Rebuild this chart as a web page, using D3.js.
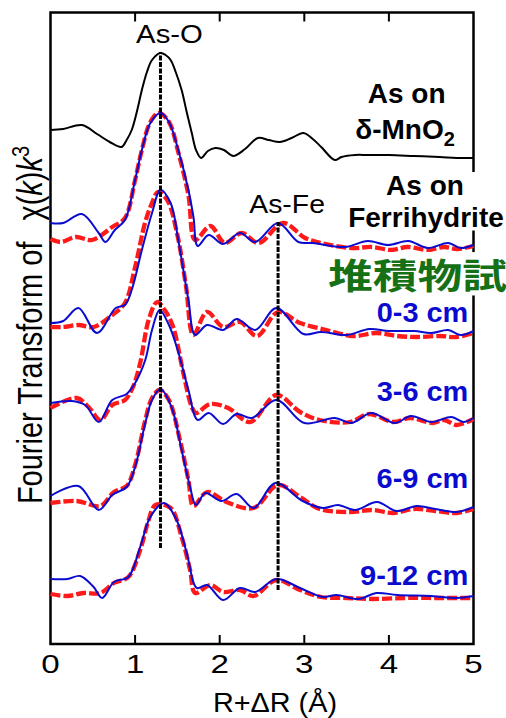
<!DOCTYPE html>
<html>
<head>
<meta charset="utf-8">
<script src="https://cdn.jsdelivr.net/npm/d3@7"></script>
<style>
  html, body { margin: 0; padding: 0; background: #fff; }
  svg { display: block; }
</style>
</head>
<body>
<div id="chart"></div>
<script>
// FT magnitude vs R+dR (A), stacked (offsets already included), arb. units
const mno2Ref = [[0,51.4],[0.15,51.5],[0.37,51.9],[0.55,51.0],[0.7,50.2],[0.84,49.7],[0.9,50.4],[0.96,51.4],
  [1.02,53.2],[1.08,55.4],[1.14,57.2],[1.2,58.4],[1.3,59.1],[1.36,58.9],[1.42,58.4],[1.48,57.2],[1.55,55.4],
  [1.61,53.2],[1.67,51.1],[1.72,49.4],[1.78,48.6],[1.86,49.3],[1.95,49.6],[2.05,49.4],[2.16,48.8],[2.3,49.5],
  [2.45,50.6],[2.58,50.4],[2.71,50.2],[2.85,50.6],[2.99,51.1],[3.1,50.5],[3.2,49.7],[3.36,48.4],[3.44,48.7],
  [3.6,48.9],[3.75,48.9],[4.0,48.9],[4.3,48.8],[4.6,48.7],[4.8,48.6],[5.0,48.6]];

const ferriExp = [[0,42.1],[0.15,42.1],[0.37,43.0],[0.57,41.1],[0.65,40.2],[0.76,41.4],[0.88,42.4],[1.0,46.4],
  [1.08,49.4],[1.18,52.1],[1.3,53.1],[1.4,52.2],[1.51,49.4],[1.63,45.4],[1.69,42.7],[1.74,39.8],[1.87,40.9],
  [2.04,40.0],[2.24,41.1],[2.42,40.2],[2.69,42.1],[2.93,40.2],[3.1,40.1],[3.48,39.7],[3.75,40.3],[3.99,39.9],
  [4.23,40.3],[4.46,39.6],[4.7,40.1],[4.85,39.6],[5.0,39.9]];
const ferriFit = [[0,40.5],[0.12,40.2],[0.3,40.7],[0.49,40.4],[0.73,41.7],[0.88,42.6],[1.0,46.4],[1.08,49.4],
  [1.18,52.2],[1.28,53.1],[1.4,52.2],[1.51,49.2],[1.63,44.9],[1.71,40.4],[1.89,41.8],[2.06,40.1],[2.26,41.1],
  [2.46,40.1],[2.75,42.1],[3.01,40.6],[3.2,40.1],[3.56,39.6],[3.8,39.7],[4.03,39.4],[4.22,39.7],[4.46,39.4],
  [4.65,39.7],[4.81,39.5],[5.0,39.8]];

const cm0to3Exp = [[0,32.1],[0.15,32.3],[0.33,33.6],[0.55,31.1],[0.77,33.6],[0.88,33.9],[0.96,35.4],[1.08,39.4],
  [1.2,43.1],[1.3,45.4],[1.42,44.1],[1.51,40.4],[1.63,34.4],[1.71,30.9],[1.85,31.9],[2.04,31.4],[2.2,32.5],
  [2.42,31.4],[2.67,33.6],[2.99,31.0],[3.2,31.2],[3.5,30.9],[3.77,31.5],[4.0,31.3],[4.3,31.3],[4.5,31.1],
  [4.7,31.4],[4.85,30.9],[5.0,31.3]];
const cm0to3Fit = [[0,31.7],[0.15,31.7],[0.33,31.9],[0.51,31.7],[0.73,32.9],[0.88,34.1],[1.0,37.7],[1.12,42.2],
  [1.2,44.1],[1.27,45.2],[1.38,44.4],[1.5,40.9],[1.6,35.9],[1.69,30.9],[1.85,33.2],[2.04,31.7],[2.24,32.2],
  [2.44,30.8],[2.69,33.2],[2.95,32.1],[3.26,31.4],[3.58,30.8],[3.85,31.1],[4.1,30.8],[4.33,30.7],[4.6,30.8],
  [4.8,30.7],[5.0,31.1]];

const cm3to6Exp = [[0,24.1],[0.25,24.3],[0.41,23.9],[0.57,22.2],[0.73,24.4],[0.9,25.0],[1.0,26.1],[1.12,28.4],
  [1.2,31.4],[1.29,33.4],[1.4,31.9],[1.51,29.2],[1.63,25.4],[1.74,22.4],[1.87,23.1],[2.04,22.0],[2.2,23.0],
  [2.38,22.6],[2.67,24.4],[3.0,22.1],[3.36,22.6],[3.56,22.1],[3.79,23.1],[4.07,22.1],[4.26,22.8],[4.5,22.2],
  [4.74,22.7],[4.88,22.2],[5.0,22.6]];
const cm3to6Fit = [[0,23.6],[0.31,24.6],[0.45,23.7],[0.59,22.4],[0.73,23.9],[0.88,24.4],[0.97,25.6],[1.06,28.1],
  [1.16,32.4],[1.26,34.2],[1.35,33.4],[1.45,31.7],[1.57,27.1],[1.67,23.7],[1.72,23.1],[1.89,24.0],[2.1,23.6],
  [2.36,22.2],[2.67,24.9],[2.95,23.2],[3.18,22.4],[3.54,22.2],[3.77,23.0],[4.05,22.2],[4.25,22.6],[4.52,22.1],
  [4.65,22.4],[4.8,21.9],[5.0,22.5]];

const cm6to9Exp = [[0,14.8],[0.33,15.8],[0.57,13.4],[0.73,14.9],[0.9,15.7],[1.0,17.7],[1.12,22.1],[1.2,24.4],
  [1.3,25.5],[1.43,23.7],[1.55,19.4],[1.65,15.7],[1.72,13.9],[1.83,15.1],[2.02,14.3],[2.2,15.0],[2.4,13.6],
  [2.66,16.1],[2.98,14.3],[3.22,13.6],[3.4,13.9],[3.6,13.4],[3.86,14.2],[4.09,13.3],[4.33,13.8],[4.55,13.5],
  [4.8,13.2],[5.0,13.7]];
const cm6to9Fit = [[0,14.1],[0.31,14.3],[0.59,13.8],[0.75,15.2],[0.9,15.8],[1.0,17.9],[1.12,22.4],[1.2,24.6],
  [1.29,25.4],[1.4,24.4],[1.53,20.4],[1.63,16.4],[1.69,13.8],[1.85,15.2],[2.08,14.2],[2.4,13.6],[2.69,15.9],
  [2.95,14.7],[3.18,13.5],[3.54,13.2],[3.8,13.4],[4.05,13.1],[4.3,13.5],[4.55,13.3],[4.8,13.1],[5.0,13.5]];

const cm9to12Exp = [[0,6.5],[0.2,6.5],[0.35,6.8],[0.51,5.7],[0.61,4.6],[0.75,6.2],[0.92,6.7],[1.06,9.7],
  [1.18,12.7],[1.34,14.1],[1.49,12.4],[1.61,9.1],[1.73,5.6],[1.85,5.9],[2.04,4.4],[2.24,5.6],[2.42,5.2],
  [2.67,6.5],[2.95,5.6],[3.22,4.7],[3.38,4.9],[3.64,4.5],[3.85,5.1],[4.1,4.9],[4.5,4.8],[4.8,4.6],[5.0,4.8]];
const cm9to12Fit = [[0,5.0],[0.2,4.8],[0.39,5.1],[0.59,5.1],[0.75,6.1],[0.92,6.7],[1.06,9.4],[1.16,12.4],
  [1.24,13.9],[1.42,13.6],[1.55,10.7],[1.65,7.4],[1.71,5.1],[1.89,5.9],[2.04,5.2],[2.24,5.4],[2.4,4.8],
  [2.67,6.4],[2.95,5.4],[3.2,4.7],[3.5,4.6],[3.8,4.5],[4.2,4.6],[4.6,4.6],[5.0,4.6]];

const xTicks = [0, 1, 2, 3, 4, 5];
const peakLines = [
  { label: 'As-O', r: 1.3, low: 9.6, high: 59.2 },
  { label: 'As-Fe', r: 2.69, low: 5.4, high: 42.2 }
];
const sampleLabels = ['0-3 cm', '3-6 cm', '6-9 cm', '9-12 cm'];

const chart = {
  width: 506,
  height: 718,

  init() {
    this.svg = d3.select('#chart').append('svg')
      .attr('width', this.width)
      .attr('height', this.height)
      .style('font-family', '"Liberation Sans", Arial, sans-serif');

    this.x = d3.scaleLinear().domain([0, 5]).range([50.5, 473.5]);
    this.y = d3.scaleLinear().domain([0, 63.15]).range([644, 12.5]);
    this.line = d3.line()
      .x((d) => this.x(d[0]))
      .y((d) => this.y(d[1]))
      .curve(d3.curveCatmullRom.alpha(0.5));

    this.drawFrame();
    this.drawSeries();
    this.drawPeakLines();
    this.drawLabels();
  },

  drawFrame() {
    const [x0, x1] = this.x.range();
    const [y0, y1] = this.y.range();
    this.svg.append('rect')
      .attr('x', x0).attr('y', y1)
      .attr('width', x1 - x0).attr('height', y0 - y1)
      .attr('fill', 'none').attr('stroke', '#000').attr('stroke-width', 2.5);

    const inner = xTicks.slice(1, -1);
    const ticks = this.svg.append('g').attr('stroke', '#000').attr('stroke-width', 2);
    ticks.selectAll('.tb').data(inner).join('line')
      .attr('x1', (d) => this.x(d)).attr('x2', (d) => this.x(d))
      .attr('y1', y0).attr('y2', y0 - 9);
    ticks.selectAll('.tt').data(inner).join('line')
      .attr('x1', (d) => this.x(d)).attr('x2', (d) => this.x(d))
      .attr('y1', y1).attr('y2', y1 + 9);

    this.svg.append('g').selectAll('text').data(xTicks).join('text')
      .attr('transform', (d) => `translate(${this.x(d)},672.5) scale(1.3,1)`)
      .attr('text-anchor', 'middle')
      .style('font-size', '25.5px')
      .text((d) => d);

    this.svg.append('text')
      .attr('x', 213).attr('y', 711.5)
      .attr('textLength', 124).attr('lengthAdjust', 'spacingAndGlyphs')
      .style('font-size', '28px')
      .text('R+\u0394R (\u00c5)');

    const yl = this.svg.append('text')
      .attr('transform', 'translate(42,325) scale(1.2,1) rotate(-90)')
      .attr('text-anchor', 'middle')
      .style('font-size', '29px');
    yl.append('tspan').text('Fourier Transform of');
    yl.append('tspan').attr('dx', 21).text('\u03c7(');
    yl.append('tspan').style('font-style', 'italic').text('k');
    yl.append('tspan').text(')');
    yl.append('tspan').style('font-style', 'italic').text('k');
    yl.append('tspan').attr('dy', -11).style('font-size', '20px').text('3');
  },

  drawSeries() {
    this.svg.append('path')
      .attr('d', this.line(mno2Ref))
      .attr('fill', 'none').attr('stroke', '#000').attr('stroke-width', 2);

    const pairs = [
      [ferriExp, ferriFit],
      [cm0to3Exp, cm0to3Fit],
      [cm3to6Exp, cm3to6Fit],
      [cm6to9Exp, cm6to9Fit],
      [cm9to12Exp, cm9to12Fit]
    ];
    for (const [exp, fit] of pairs) {
      this.svg.append('path')
        .attr('d', this.line(fit))
        .attr('fill', 'none').attr('stroke', '#ff1a1a')
        .attr('stroke-width', 4.3).attr('stroke-dasharray', '10,3');
      this.svg.append('path')
        .attr('d', this.line(exp))
        .attr('fill', 'none').attr('stroke', '#0b0bd0').attr('stroke-width', 2);
    }
  },

  drawPeakLines() {
    const g = this.svg.append('g');
    g.selectAll('line').data(peakLines).join('line')
      .attr('x1', (d) => this.x(d.r)).attr('x2', (d) => this.x(d.r))
      .attr('y1', (d) => this.y(d.low)).attr('y2', (d) => this.y(d.high))
      .attr('stroke', '#000').attr('stroke-width', 3)
      .attr('stroke-dasharray', '5,1.5');
    const widths = { 'As-O': 66.7, 'As-Fe': 75.7 };
    g.selectAll('text').data(peakLines).join('text')
      .attr('x', (d) => this.x(d.r) + 9 - widths[d.label] / 2)
      .attr('y', (d) => this.y(d.high) - 9)
      .attr('textLength', (d) => widths[d.label])
      .attr('lengthAdjust', 'spacingAndGlyphs')
      .style('font-size', '25.5px')
      .text((d) => d.label);
  },

  whiteBox(g, padX, padY) {
    const b = g.node().getBBox();
    g.insert('rect', ':first-child')
      .attr('x', b.x - padX).attr('y', b.y + padY)
      .attr('width', b.width + 2 * padX).attr('height', b.height - 2 * padY)
      .attr('fill', '#fff');
  },

  drawLabels() {
    const mn = this.svg.append('g').attr('text-anchor', 'middle');
    mn.append('text').attr('x', 406.7).attr('y', 102.5).style('font-size', '28px').style('font-weight', 'bold').text('As on');
    const t = mn.append('text').attr('x', 405).attr('y', 139).style('font-size', '28px').style('font-weight', 'bold');
    t.append('tspan').text('\u03b4-MnO');
    t.append('tspan').attr('dy', 7).style('font-size', '20px').text('2');

    const fe = this.svg.append('g').attr('text-anchor', 'middle');
    fe.append('text').attr('x', 425).attr('y', 195).style('font-size', '28px').style('font-weight', 'bold').text('As on');
    fe.append('text').attr('x', 426).attr('y', 226.5).style('font-size', '28px').style('font-weight', 'bold').text('Ferrihydrite');
    this.whiteBox(fe, 3, 2);

    // sample label runs past the right edge, as in the source figure
    const jp = this.svg.append('g');
    jp.append('text')
      .attr('transform', 'translate(328,289) scale(1.28,1)')
      .attr('fill', '#167016')
      .style('font-family', '"Noto Sans CJK JP", "Noto Sans CJK SC", sans-serif')
      .style('font-size', '35px').style('font-weight', 'bold')
      .text('\u5806\u7a4d\u7269\u8a66\u6599');
    this.whiteBox(jp, 0, 4);

    const labelY = [322, 401, 488, 585];
    const labelW = [91.6, 91.6, 91.7, 108.3];
    this.svg.append('g').selectAll('text').data(sampleLabels).join('text')
      .attr('x', (d, i) => 468.3 - labelW[i])
      .attr('y', (d, i) => labelY[i])
      .attr('textLength', (d, i) => labelW[i])
      .attr('lengthAdjust', 'spacingAndGlyphs')
      .attr('fill', '#0b0bd0')
      .style('font-size', '27px').style('font-weight', 'bold')
      .text((d) => d);
  }
};

chart.init();
</script>
</body>
</html>
